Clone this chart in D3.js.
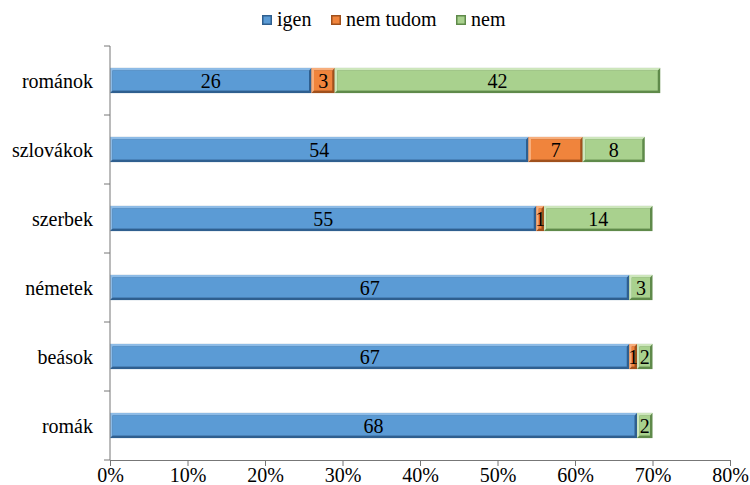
<!DOCTYPE html>
<html>
<head>
<meta charset="utf-8">
<script src="https://cdn.jsdelivr.net/npm/d3@7/dist/d3.min.js"></script>
<style>
  html, body { margin: 0; padding: 0; background: #fff; }
</style>
</head>
<body>
<svg id="chart" width="750" height="485"></svg>
<script>
// Data: share of respondents per group (percent)
const categories = ["románok", "szlovákok", "szerbek", "németek", "beások", "romák"];
const seriesNames = ["igen", "nem tudom", "nem"];
const igen     = [26, 54, 55, 67, 67, 68];
const nemTudom = [3, 7, 1, 0, 1, 0];
const nem      = [42, 8, 14, 3, 2, 2];
const xTicks = [0, 10, 20, 30, 40, 50, 60, 70, 80];

const FONT = "'Liberation Serif', 'Times New Roman', serif";
const FS = 20;

const colors = {
  "igen":      { fill: "#5b9bd5", dark: "#2f5f8f", light: "#8dbbe6" },
  "nem tudom": { fill: "#f0843c", dark: "#a0501c", light: "#f7ae7c" },
  "nem":       { fill: "#a9d18e", dark: "#5f8a4a", light: "#cde6bc" }
};

const rows = categories.map((c, i) => ({ cat: c, "igen": igen[i], "nem tudom": nemTudom[i], "nem": nem[i] }));
const stack = d3.stack().keys(seriesNames)(rows);

const svg = d3.select("#chart");
const margin = { left: 110, top: 46 };
const plotRight = 730, plotBottom = 460;

const x = d3.scaleLinear().domain([0, 80]).range([margin.left, plotRight]);
const y = d3.scaleBand().domain(categories).range([margin.top, plotBottom]).paddingInner(0.635).paddingOuter(0.3175);

// Bars with a bevelled look
const barH = y.bandwidth();
const bev = 2.5;
stack.forEach(layer => {
  const c = colors[layer.key];
  const g = svg.append("g");
  layer.forEach((d, i) => {
    const x0 = x(d[0]), x1 = x(d[1]);
    const w = x1 - x0;
    if (w <= 0) return;
    const yy = y(categories[i]);
    const seg = g.append("g");
    seg.append("rect").attr("x", x0).attr("y", yy).attr("width", w).attr("height", barH).attr("fill", c.dark);
    const b = Math.min(bev, w / 3);
    seg.append("path")
      .attr("d", `M${x0},${yy}L${x1},${yy}L${x1 - b},${yy + b}L${x0 + b},${yy + b}L${x0 + b},${yy + barH - b}L${x0},${yy + barH}Z`)
      .attr("fill", c.light);
    seg.append("rect").attr("x", x0 + b).attr("y", yy + b).attr("width", Math.max(0, w - 2 * b)).attr("height", barH - 2 * b).attr("fill", c.fill);
    const v = d.data[layer.key];
    seg.append("text")
      .attr("x", (x0 + x1) / 2)
      .attr("y", yy + barH / 2 + 7)
      .attr("text-anchor", "middle")
      .style("font-family", FONT)
      .style("font-size", FS + "px")
      .attr("fill", "#000")
      .text(v);
  });
});

// Category axis (left)
const yAxisG = svg.append("g").attr("transform", `translate(${margin.left},0)`);
yAxisG.append("line").attr("x1", 0).attr("x2", 0).attr("y1", margin.top).attr("y2", plotBottom).attr("stroke", "#777");
d3.range(categories.length + 1).forEach(i => {
  const yy = margin.top + i * (plotBottom - margin.top) / categories.length;
  yAxisG.append("line").attr("x1", -6).attr("x2", 0).attr("y1", yy).attr("y2", yy).attr("stroke", "#777");
});
categories.forEach(c => {
  yAxisG.append("text")
    .attr("x", -17)
    .attr("y", y(c) + barH / 2 + 7)
    .attr("text-anchor", "end")
    .style("font-family", FONT)
    .style("font-size", FS + "px")
    .attr("fill", "#000")
    .text(c);
});

// Value axis (bottom)
const xAxis = d3.axisBottom(x).tickValues(xTicks).tickFormat(d => d + "%").tickSizeOuter(0).tickSize(6).tickPadding(2);
const xAxisG = svg.append("g").attr("transform", `translate(0,${plotBottom})`).call(xAxis);
xAxisG.select(".domain").attr("stroke", "#777");
xAxisG.selectAll(".tick line").attr("stroke", "#777");
xAxisG.selectAll(".tick text")
  .style("font-family", FONT)
  .style("font-size", FS + "px")
  .attr("fill", "#000");

// Legend
const legendItems = [
  { key: "igen", x: 262 },
  { key: "nem tudom", x: 331 },
  { key: "nem", x: 456 }
];
legendItems.forEach(it => {
  const c = colors[it.key];
  const lg = svg.append("g").attr("transform", `translate(${it.x},15)`);
  lg.append("rect").attr("width", 10).attr("height", 10).attr("fill", c.dark);
  lg.append("rect").attr("x", 1.5).attr("y", 1.5).attr("width", 7).attr("height", 7).attr("fill", c.fill);
  lg.append("text").attr("x", 15).attr("y", 11)
    .style("font-family", FONT)
    .style("font-size", FS + "px")
    .attr("fill", "#000")
    .text(it.key);
});
</script>
</body>
</html>
